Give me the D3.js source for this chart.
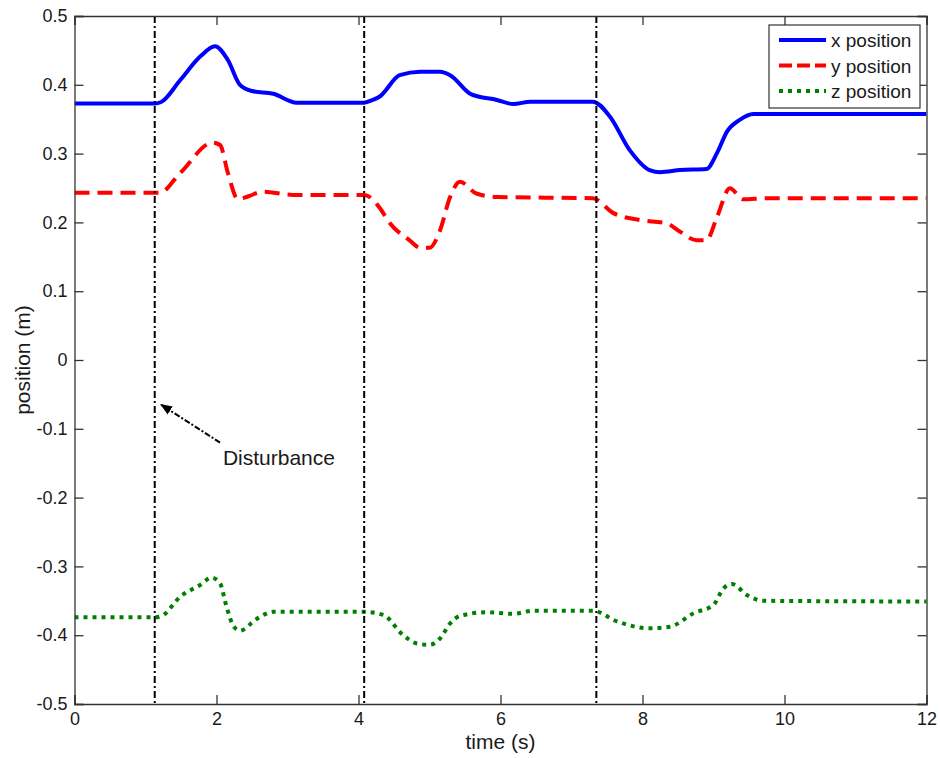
<!DOCTYPE html>
<html>
<head>
<meta charset="utf-8">
<script src="https://cdn.jsdelivr.net/npm/d3@7"></script>
<style>
  body { margin: 0; background: #fff; }
  text { font-family: "Liberation Sans", Arial, sans-serif; fill: #1a1a1a; }
</style>
</head>
<body>
<div id="chart"></div>
<script>
// series
let xTime = [0, 1.13, 1.22, 1.49, 1.77, 1.98, 2.16, 2.33, 2.5, 2.8, 3.13, 4.08, 4.2, 4.3, 4.58, 4.87, 5.15, 5.29, 5.59, 5.95, 6.18, 6.42, 7.3, 7.54, 7.82, 8.1, 8.25, 8.53, 8.9, 9.05, 9.19, 9.37, 9.56, 12];
let xPos = [0.373, 0.373, 0.375, 0.407, 0.441, 0.456, 0.436, 0.400, 0.391, 0.387, 0.374, 0.374, 0.378, 0.383, 0.414, 0.419, 0.419, 0.414, 0.386, 0.378, 0.372, 0.3755, 0.3755, 0.354, 0.305, 0.276, 0.273, 0.276, 0.2776, 0.301, 0.332, 0.349, 0.3575, 0.3575];

let yTime = [0, 1.2, 1.49, 1.95, 2.05, 2.16, 2.3, 2.45, 2.65, 3.08, 4.08, 4.3, 4.44, 4.72, 4.87, 5.0, 5.15, 5.29, 5.43, 5.66, 5.95, 7.3, 7.59, 7.96, 8.34, 8.53, 8.76, 8.9, 9.05, 9.23, 9.42, 9.75, 12];
let yPos = [0.243, 0.243, 0.272, 0.316, 0.3125, 0.272, 0.234, 0.238, 0.2447, 0.24, 0.24, 0.221, 0.199, 0.174, 0.163, 0.163, 0.189, 0.237, 0.259, 0.242, 0.237, 0.235, 0.2135, 0.2035, 0.1986, 0.1865, 0.174, 0.174, 0.208, 0.2495, 0.2335, 0.235, 0.235];

let zTime = [0, 1.13, 1.23, 1.49, 1.77, 1.93, 2.05, 2.14, 2.24, 2.33, 2.57, 2.8, 4.08, 4.35, 4.63, 4.82, 5.0, 5.15, 5.29, 5.43, 5.8, 6.18, 6.46, 7.3, 7.64, 8.1, 8.39, 8.72, 9.0, 9.14, 9.26, 9.47, 9.7, 12];
let zPos = [-0.374, -0.374, -0.372, -0.344, -0.327, -0.3164, -0.3247, -0.358, -0.387, -0.3934, -0.376, -0.366, -0.366, -0.3706, -0.400, -0.412, -0.414, -0.4045, -0.383, -0.372, -0.3667, -0.369, -0.3644, -0.3644, -0.380, -0.390, -0.3876, -0.368, -0.356, -0.332, -0.3256, -0.3416, -0.350, -0.351];

let disturbances = [1.13, 4.08, 7.35];
let xTicks = [0, 2, 4, 6, 8, 10, 12];
let yTicks = [-0.5, -0.4, -0.3, -0.2, -0.1, 0, 0.1, 0.2, 0.3, 0.4, 0.5];
let seriesNames = ["x position", "y position", "z position"];

var margin = { top: 16, right: 13.5, bottom: 54, left: 74.5 },
  width = 940 - margin.left - margin.right,
  height = 758 - margin.top - margin.bottom;

var svg = d3.select("#chart")
  .append("svg")
  .attr("width", 940)
  .attr("height", 758)
  .append("g")
  .attr("transform", "translate(" + margin.left + "," + margin.top + ")");

var x = d3.scaleLinear().domain([0, 12]).range([0, width]);
var y = d3.scaleLinear().domain([-0.5, 0.5]).range([height, 0]);

// series styles
var series = [
  { name: seriesNames[0], t: xTime, v: xPos, color: "#0000ff", dash: null, legendDash: null },
  { name: seriesNames[1], t: yTime, v: yPos, color: "#ff0000", dash: "15,8", legendDash: "13,5" },
  { name: seriesNames[2], t: zTime, v: zPos, color: "#008000", dash: "4,5", legendDash: "4,5" }
];

var line = d3.line()
  .curve(d3.curveMonotoneX)
  .x(d => x(d[0]))
  .y(d => y(d[1]));

svg.append("clipPath").attr("id", "plotclip")
  .append("rect").attr("width", width).attr("height", height);

series.forEach(s => {
  svg.append("path")
    .datum(s.t.map((t, i) => [t, s.v[i]]))
    .attr("clip-path", "url(#plotclip)")
    .attr("fill", "none")
    .attr("stroke", s.color)
    .attr("stroke-width", 4)
    .attr("stroke-dasharray", s.dash)
    .attr("d", line);
});

// disturbance markers
svg.selectAll(".dist")
  .data(disturbances)
  .enter().append("line")
  .attr("x1", d => x(d)).attr("x2", d => x(d))
  .attr("y1", 0).attr("y2", height)
  .attr("stroke", "#000")
  .attr("stroke-width", 2)
  .attr("stroke-dasharray", "7,3,2,3");

// axes, matlab style box with inward ticks
var tickLen = 9;
var fmt = d => d === 0 ? "0" : d3.format(".1f")(d).replace("\u2212", "-");
svg.append("g")
  .attr("transform", "translate(0," + height + ")")
  .call(d3.axisBottom(x).tickValues(xTicks).tickSize(-tickLen).tickPadding(8).tickFormat(d3.format("d")));
svg.append("g")
  .call(d3.axisTop(x).tickValues(xTicks).tickSize(-tickLen).tickFormat(""));
svg.append("g")
  .call(d3.axisLeft(y).tickValues(yTicks).tickSize(-tickLen).tickPadding(7).tickFormat(fmt));
svg.append("g")
  .attr("transform", "translate(" + width + ",0)")
  .call(d3.axisRight(y).tickValues(yTicks).tickSize(-tickLen).tickFormat(""));

svg.selectAll(".domain").attr("stroke", "#333").attr("stroke-width", 1.3);
svg.selectAll(".tick line").attr("stroke", "#333").attr("stroke-width", 1.3);
svg.selectAll(".tick text")
  .style("font-size", "18px")
  .style("font-family", "'Liberation Sans', Arial, sans-serif")
  .attr("fill", "#1a1a1a");

// axis titles
svg.append("text")
  .attr("x", width / 2)
  .attr("y", height + 45)
  .attr("text-anchor", "middle")
  .style("font-size", "21px")
  .text("time (s)");
svg.append("text")
  .attr("transform", "translate(" + (-44.5) + "," + (height / 2) + ") rotate(-90)")
  .attr("text-anchor", "middle")
  .style("font-size", "21px")
  .text("position (m)");

// annotation arrow
var defs = svg.append("defs");
defs.append("marker")
  .attr("id", "arrowhead")
  .attr("viewBox", "0 0 10 10")
  .attr("refX", 9).attr("refY", 5)
  .attr("markerWidth", 6).attr("markerHeight", 6)
  .attr("orient", "auto")
  .append("path")
  .attr("d", "M0,1 L10,5 L0,9 Z")
  .attr("fill", "#000");

svg.append("line")
  .attr("x1", x(2.05)).attr("y1", y(-0.12))
  .attr("x2", x(1.22)).attr("y2", y(-0.065))
  .attr("stroke", "#000")
  .attr("stroke-width", 2)
  .attr("stroke-dasharray", "6,2,2,2")
  .attr("marker-end", "url(#arrowhead)");

svg.append("text")
  .attr("x", x(2.09))
  .attr("y", y(-0.152))
  .style("font-size", "21px")
  .text("Disturbance");

// legend
var legend = svg.append("g")
  .attr("transform", "translate(" + (769 - margin.left) + "," + (25 - margin.top) + ")");
legend.append("rect")
  .attr("width", 151).attr("height", 83)
  .attr("fill", "#fff")
  .attr("stroke", "#333")
  .attr("stroke-width", 1.2);
series.forEach((s, i) => {
  let row = legend.append("g").attr("transform", "translate(0," + (15 + i * 25.5) + ")");
  row.append("line")
    .attr("x1", 10).attr("x2", 57)
    .attr("stroke", s.color)
    .attr("stroke-width", 4)
    .attr("stroke-dasharray", s.legendDash);
  row.append("text")
    .attr("x", 62).attr("y", 7)
    .style("font-size", "19px")
    .text(s.name);
});
</script>
</body>
</html>
